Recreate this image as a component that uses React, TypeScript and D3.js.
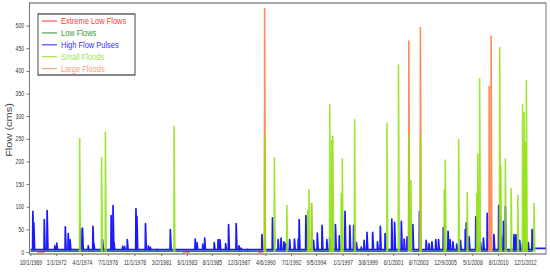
import { useEffect, useRef } from 'react';
import * as d3 from 'd3';

// tick labels on the date axis (M/D/YYYY as printed)
const tickDates = [
    '1969-10-01', '1972-01-01', '1974-04-01', '1976-07-01', '1978-11-01',
    '1981-03-02', '1983-06-01', '1985-08-01', '1987-12-03', '1990-04-06',
    '1992-07-01', '1994-09-05', '1997-01-01', '1999-03-08', '2001-06-01',
    '2003-08-07', '2005-12-09', '2008-05-01', '2010-08-01', '2012-12-01',
];
const flowTicks = [0, 50, 100, 150, 200, 250, 300, 350, 400, 450, 500];

// [date, peak flow cms]
const highFlowPulses: [string, number][] = [
    ['1969-12-15', 89], ['1970-01-15', 64], ['1970-12-15', 71], ['1971-03-15', 91],
    ['1971-11-15', 13], ['1972-01-15', 19], ['1972-10-15', 55], ['1973-01-15', 40],
    ['1973-03-15', 27], ['1974-02-15', 51], ['1974-04-15', 52], ['1974-10-15', 13],
    ['1975-03-15', 56], ['1975-04-15', 17], ['1976-01-15', 27], ['1976-10-15', 80],
    ['1976-12-15', 102], ['1977-01-15', 20], ['1977-10-15', 12], ['1977-12-15', 12],
    ['1978-03-15', 27], ['1978-12-15', 95], ['1979-01-15', 78], ['1979-10-15', 62],
    ['1980-01-15', 13], ['1980-03-15', 10], ['1980-10-15', 5], ['1981-12-15', 49],
    ['1984-02-15', 28], ['1984-04-15', 20], ['1984-10-15', 17], ['1984-12-15', 30],
    ['1985-10-15', 20], ['1986-02-15', 27], ['1986-04-15', 27], ['1986-10-15', 18],
    ['1987-01-15', 60], ['1987-09-15', 62], ['1987-12-15', 13], ['1988-02-15', 8],
    ['1988-09-15', 5], ['1989-12-15', 38], ['1990-11-15', 75], ['1991-05-15', 27],
    ['1991-08-15', 30], ['1991-11-15', 22], ['1992-01-15', 18], ['1992-05-15', 27],
    ['1992-10-15', 28], ['1993-02-15', 28], ['1993-03-15', 71], ['1993-10-15', 80],
    ['1994-06-15', 25], ['1994-10-15', 41], ['1995-03-15', 58], ['1995-08-15', 27],
    ['1995-11-15', 30], ['1996-05-15', 60], ['1996-09-15', 35], ['1997-03-15', 89],
    ['1997-08-15', 58], ['1997-12-15', 58], ['1998-03-15', 20], ['1998-08-15', 10],
    ['1998-11-15', 25], ['1999-02-15', 43], ['1999-08-15', 43], ['2000-01-15', 22],
    ['2000-04-15', 56], ['2000-09-15', 40], ['2001-04-15', 72], ['2001-07-15', 65],
    ['2002-02-15', 67], ['2002-05-15', 28], ['2002-08-15', 33], ['2003-02-15', 60],
    ['2003-09-15', 89], ['2004-04-15', 25], ['2004-07-15', 18], ['2004-10-15', 22],
    ['2005-02-15', 27], ['2005-05-15', 27], ['2005-10-15', 53], ['2006-03-15', 45],
    ['2006-05-15', 27], ['2006-08-15', 22], ['2006-12-15', 17], ['2007-04-15', 25],
    ['2007-09-15', 49], ['2007-10-15', 64], ['2008-01-15', 33], ['2008-08-15', 77],
    ['2009-01-15', 20], ['2009-04-15', 30], ['2009-08-15', 85], ['2010-03-15', 38],
    ['2010-08-15', 102], ['2010-11-15', 35], ['2011-01-15', 67], ['2011-03-15', 100],
    ['2011-12-15', 38], ['2012-02-15', 38], ['2012-06-15', 25], ['2012-09-15', 18],
    ['2013-03-15', 20], ['2013-07-15', 49],
];
const smallFloods: [string, number][] = [
    ['1974-01-15', 252], ['1975-12-15', 210], ['1976-04-15', 266], ['1982-04-15', 279],
    ['1990-03-10', 257], ['1991-01-15', 210], ['1992-02-15', 104], ['1993-12-15', 93],
    ['1994-01-20', 139], ['1994-04-15', 108], ['1995-11-15', 327], ['1996-01-15', 248],
    ['1996-02-20', 257], ['1996-11-15', 131], ['1996-12-20', 207], ['1998-01-15', 293],
    ['2000-11-15', 286], ['2001-11-15', 414], ['2002-10-10', 259], ['2002-12-15', 159],
    ['2003-10-15', 257], ['2005-11-15', 138], ['2005-12-15', 204], ['2007-02-15', 249],
    ['2007-11-15', 133], ['2008-09-15', 130], ['2008-10-20', 218], ['2008-12-15', 384],
    ['2010-09-15', 453], ['2010-10-20', 192], ['2011-03-15', 207], ['2011-09-15', 141],
    ['2012-04-15', 126], ['2012-09-15', 327], ['2012-11-01', 310], ['2012-12-10', 243],
    ['2013-01-15', 380], ['2013-09-15', 108],
];
const largeFloods: [string, number][] = [
    ['1990-03-10', 539], ['1994-04-15', 108], ['2002-10-10', 467], ['2003-10-15', 497],
    ['2009-10-15', 367], ['2009-12-15', 478],
];
// [start, end]
const lowFlowPeriods: [string, string][] = [
    ['1969-10-01', '1970-04-30'], ['1971-01-01', '1983-01-01'],
    ['1983-09-01', '1989-08-01'], ['1990-02-01', '2013-08-01'],
];
const extremeLowPeriods: [string, string][] = [
    ['1970-05-01', '1970-12-31'], ['1983-01-01', '1983-08-31'], ['1989-08-01', '1990-01-31'],
];
const baseFlow: [string, number][] = [
    ['1969-10-01', 5], ['2013-08-01', 5], ['2013-09-01', 8], ['2014-09-30', 8],
];

const series = [
    { name: 'Extreme Low Flows', color: '#ff2a2a', text: '#ff3b3b' },
    { name: 'Low Flows', color: '#2a8a2a', text: '#3a9a3a' },
    { name: 'High Flow Pulses', color: '#1a1aff', text: '#3333ff' },
    { name: 'Small Floods', color: '#8ee010', text: '#99e84a' },
    { name: 'Large Floods', color: '#ff8c58', text: '#ff9a78' },
];

const WIDTH = 550;
const HEIGHT = 272;
// the original picture is squeezed sideways; draw wide and let the viewBox squeeze it
const SQUEEZE = 0.78;
const VW = WIDTH / SQUEEZE;
const margin = { top: 3, right: 4 / SQUEEZE, bottom: 18, left: 29.5 / SQUEEZE };
const FONT = '"Liberation Sans", Arial, sans-serif';

export default function App() {
    const svgRef = useRef<SVGSVGElement>(null);

    useEffect(() => {
        const svg = d3.select(svgRef.current);
        svg.selectAll('*').remove();

        const parse = d3.timeParse('%Y-%m-%d');
        const p = (s: string) => parse(s) as Date;
        const bottom = HEIGHT - margin.bottom;

        const x = d3.scaleTime()
            .domain([p('1969-08-30'), p('2014-10-01')])
            .range([margin.left, VW - margin.right]);
        const y = d3.scaleLinear()
            .domain([-4.5, 550])
            .range([bottom, margin.top]);

        svg.append('rect').attr('width', VW).attr('height', HEIGHT).attr('fill', '#fff');

        svg.append('defs').append('clipPath').attr('id', 'plot-clip')
            .append('rect')
            .attr('x', margin.left).attr('y', margin.top)
            .attr('width', VW - margin.left - margin.right)
            .attr('height', bottom - margin.top);

        const plot = svg.append('g').attr('clip-path', 'url(#plot-clip)');
        const line = d3.line<[Date, number]>().x(d => x(d[0])).y(d => y(d[1]));

        // spike: quick rise to the peak, short recession
        const spike = (d: [string, number], base: number): [Date, number][] => {
            const t = p(d[0]);
            return [[d3.timeDay.offset(t, -8), base], [t, d[1]], [d3.timeDay.offset(t, 25), base]];
        };

        // low flows along the bottom
        plot.selectAll('.low')
            .data(lowFlowPeriods)
            .enter().append('path')
            .attr('d', d => line([[p(d[0]), 1.5], [p(d[1]), 1.5]]))
            .attr('stroke', series[1].color).attr('stroke-width', 1.6).attr('fill', 'none');

        plot.selectAll('.xlow')
            .data(extremeLowPeriods)
            .enter().append('path')
            .attr('d', d => line([[p(d[0]), 1], [p(d[1]), 1]]))
            .attr('stroke', '#a0402a').attr('stroke-width', 1.8).attr('fill', 'none');

        // base flow + high flow pulses
        plot.append('path')
            .attr('d', line(baseFlow.map(d => [p(d[0]), d[1]])))
            .attr('stroke', series[2].color).attr('stroke-width', 1.8).attr('fill', 'none');

        plot.selectAll('.pulse')
            .data(highFlowPulses)
            .enter().append('path')
            .attr('d', d => line(spike(d, 4)))
            .attr('stroke', series[2].color).attr('stroke-width', 2.2)
            .attr('stroke-linejoin', 'round').attr('fill', 'none');

        // floods
        plot.selectAll('.large')
            .data(largeFloods)
            .enter().append('path')
            .attr('d', d => line(spike(d, 0)))
            .attr('stroke', series[4].color).attr('stroke-width', 2).attr('fill', 'none');

        plot.selectAll('.small')
            .data(smallFloods)
            .enter().append('path')
            .attr('d', d => line(spike(d, 0)))
            .attr('stroke', series[3].color).attr('stroke-width', 2)
            .attr('stroke-opacity', 0.85).attr('fill', 'none');

        // frame
        svg.append('rect')
            .attr('x', margin.left).attr('y', margin.top)
            .attr('width', VW - margin.left - margin.right)
            .attr('height', bottom - margin.top)
            .attr('fill', 'none').attr('stroke', '#7a7a7a').attr('stroke-width', 1.3);

        // y axis
        const yAxis = svg.append('g')
            .attr('transform', `translate(${margin.left},0)`)
            .call(d3.axisLeft(y).tickValues(flowTicks).tickSize(4).tickPadding(3));
        yAxis.select('.domain').remove();
        yAxis.selectAll('line').attr('stroke', '#666');
        yAxis.selectAll('text').attr('font-family', FONT).attr('font-size', 6.5).attr('fill', '#333');

        // x axis
        const fmt = (d: Date) => `${d.getMonth() + 1}/${d.getDate()}/${d.getFullYear()}`;
        const xAxis = svg.append('g')
            .attr('transform', `translate(0,${bottom})`)
            .call(d3.axisBottom(x)
                .tickValues(tickDates.map(p))
                .tickFormat(d => fmt(d as Date))
                .tickSize(2).tickPadding(4));
        xAxis.select('.domain').remove();
        xAxis.selectAll('line').attr('stroke', '#666');
        xAxis.selectAll('text').attr('font-family', FONT).attr('font-size', 6.5).attr('fill', '#333');

        // y axis title
        svg.append('text')
            .attr('transform', `translate(${9 / SQUEEZE},130) rotate(-90)`)
            .attr('text-anchor', 'middle')
            .attr('dy', '0.35em')
            .attr('font-family', FONT).attr('font-size', 11).attr('fill', '#444')
            .text('Flow (cms)');

        // legend
        const lg = svg.append('g');
        lg.append('rect')
            .attr('x', 38 / SQUEEZE).attr('y', 14)
            .attr('width', 97 / SQUEEZE).attr('height', 61)
            .attr('fill', '#fff').attr('stroke', '#555').attr('stroke-width', 1.4);
        const rows = lg.selectAll('.row')
            .data(series)
            .enter().append('g')
            .attr('transform', (d, i) => `translate(0,${21 + i * 11.9})`);
        rows.append('line')
            .attr('x1', 42 / SQUEEZE).attr('x2', 57 / SQUEEZE)
            .attr('stroke', d => d.color).attr('stroke-width', 1.2)
            .attr('stroke-opacity', 0.8);
        rows.append('text')
            .attr('x', 61 / SQUEEZE).attr('dy', '0.35em')
            .attr('font-family', FONT).attr('font-size', 9.6)
            .attr('fill', d => d.text)
            .text(d => d.name);
    }, []);

    return (
        <svg
            ref={svgRef}
            width={WIDTH}
            height={HEIGHT}
            viewBox={`0 0 ${VW} ${HEIGHT}`}
            preserveAspectRatio="none"
            style={{ position: 'absolute', left: 0, top: 0 }}
        />
    );
}
